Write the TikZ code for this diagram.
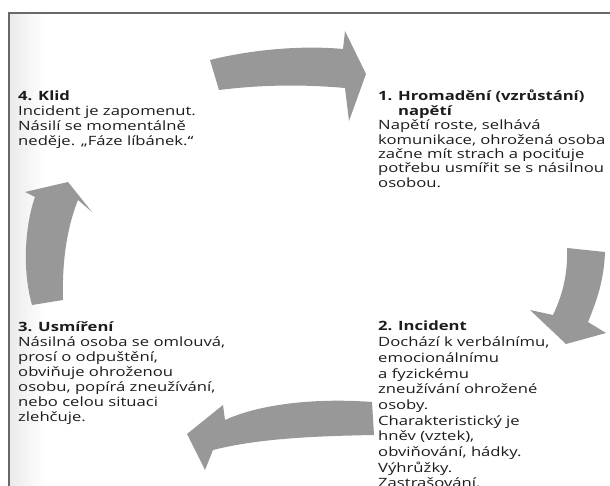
\documentclass[tikz,border=0pt]{standalone}
\usepackage{fontspec}
\setmainfont{Open Sans}[FakeStretch=1.3]
\definecolor{arrowgray}{RGB}{152,152,152}
\definecolor{textgray}{RGB}{28,28,28}
\definecolor{framegray}{RGB}{105,105,105}

\begin{document}
\begin{tikzpicture}[x=1pt,y=-1pt,
  stage/.style={anchor=north west,align=left,inner sep=0pt,text=textgray,
    font=\fontsize{12.8}{15}\selectfont},
  fatarrow/.style={fill=arrowgray,draw=none}]
\useasboundingbox (0,0) rectangle (610,486);
\fill[white] (0,0) rectangle (610,486);
% scan shadow and frame
\fill[left color=black!8,right color=white] (10,14) rectangle (45,486);
\draw[framegray,line width=1.6] (9,486) -- (9,13) -- (610,13);

% the four stages
\node[stage] (klid) at (18,91) {\textbf{4. Klid}\\
Incident je zapomenut.\\
Násilí se momentálně\\
neděje. „Fáze líbánek.“};
\node[stage,font=\fontsize{12.8}{14.4}\selectfont] (hromadeni) at (378,90)
{\textbf{1. Hromadění (vzrůstání)}\\
\textbf{\phantom{1. }napětí}\\
Napětí roste, selhává\\
komunikace, ohrožená osoba\\
začne mít strach a pociťuje\\
potřebu usmířit se s násilnou\\
osobou.};
\node[stage,font=\fontsize{12.8}{15.7}\selectfont] (incident) at (378,321)
{\textbf{2. Incident}\\
Dochází k verbálnímu,\\
emocionálnímu\\
a fyzickému\\
zneužívání ohrožené\\
osoby.\\
Charakteristický je\\
hněv (vztek),\\
obviňování, hádky.\\
Výhrůžky.\\
Zastrašování.};
\node[stage] (usmireni) at (18,321) {\textbf{3. Usmíření}\\
Násilná osoba se omlouvá,\\
prosí o odpuštění,\\
obviňuje ohroženou\\
osobu, popírá zneužívání,\\
nebo celou situaci\\
zlehčuje.};

% arrows of the cycle
\fill[fatarrow] (210,60) .. controls (250,50) and (300,45) .. (343,49)
  -- (345,31) -- (366,74) -- (349,121) -- (345,88)
  .. controls (300,84) and (260,85) .. (219,90) -- cycle;
\fill[fatarrow] (567,248) .. controls (568,275) and (562,296) .. (553,315)
  -- (530,310) -- (566,344) -- (606,333) -- (588,322)
  .. controls (597,300) and (604,280) .. (605,252) -- cycle;
\fill[fatarrow] (372,402) .. controls (320,398) and (262,403) .. (225,420)
  -- (223,405) -- (187,434) -- (205,470) -- (213,450)
  .. controls (260,438) and (320,436) .. (374,435) -- cycle;
\fill[fatarrow] (63,300) .. controls (62,265) and (66,230) .. (78,200)
  -- (92,212) -- (68,182) -- (25,192) -- (35,197)
  .. controls (25,225) and (22,270) .. (32,305) -- cycle;
\end{tikzpicture}
\end{document}
